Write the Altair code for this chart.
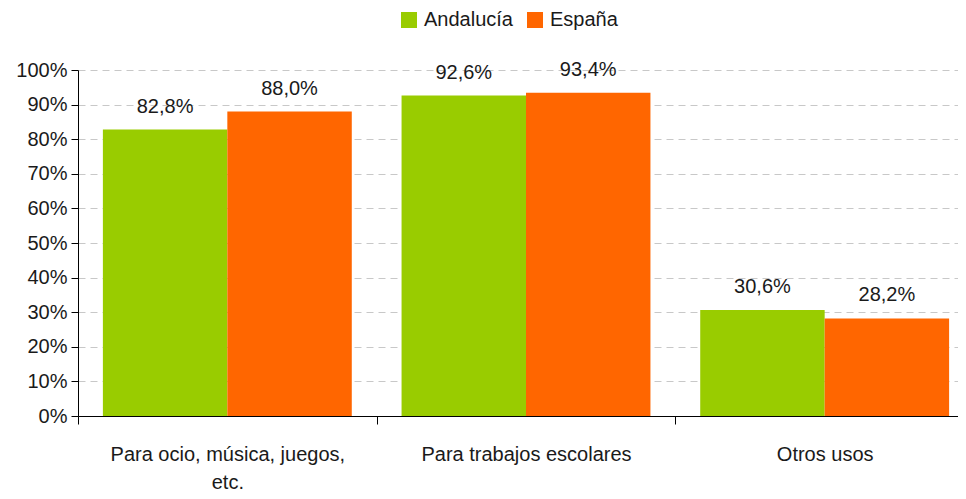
import altair as alt
import pandas as pd

categories = ["Para ocio, música, juegos, etc.", "Para trabajos escolares", "Otros usos"]
series = ["Andalucía", "España"]
andalucia = [82.8, 92.6, 30.6]
espana = [88.0, 93.4, 28.2]
y_ticks = [0, 10, 20, 30, 40, 50, 60, 70, 80, 90, 100]

rows = []
for c, a, e in zip(categories, andalucia, espana):
    rows.append({"cat": c, "serie": "Andalucía", "value": a})
    rows.append({"cat": c, "serie": "España", "value": e})
df = pd.DataFrame(rows)

FONT = "Liberation Sans Narrow, Arial Narrow, Liberation Sans, Arial"
FS = 20

x = alt.X("cat:N", sort=categories, title=None,
          scale=alt.Scale(paddingInner=0, paddingOuter=0),
          axis=alt.Axis(labelAngle=0, tickBand="extent", tickSize=8, tickColor="black",
                        domainColor="black", labelFont=FONT, labelFontSize=FS,
                        labelColor="#1a1a1a", labelPadding=20, labelLineHeight=28,
                        labelLimit=0,
                        labelExpr="datum.label == 'Para ocio, música, juegos, etc.' ? ['Para ocio, música, juegos,', 'etc.'] : datum.label",
                        labelBaseline="top"))
xo = alt.XOffset("serie:N", sort=series, scale=alt.Scale(paddingInner=0, paddingOuter=0.2))
y = alt.Y("value:Q", title=None,
          scale=alt.Scale(domain=[0, 100], nice=False),
          axis=alt.Axis(values=y_ticks, labelExpr="datum.value + '%'", tickSize=7,
                        tickColor="black", domainColor="black", labelFont=FONT,
                        labelFontSize=FS, labelColor="#1a1a1a", labelPadding=4,
                        grid=True, gridColor="#c8c8c8", gridDash=[7, 5]))
color = alt.Color("serie:N", sort=series,
                  scale=alt.Scale(domain=series, range=["#99CC00", "#FF6600"]),
                  legend=alt.Legend(title=None, orient="none", legendX=321, legendY=-60,
                                    direction="horizontal", symbolType="square",
                                    symbolSize=256, symbolStrokeWidth=0, labelFont=FONT,
                                    labelFontSize=FS, labelColor="#1a1a1a",
                                    labelOffset=5, columnPadding=12))

bars = alt.Chart(df).mark_bar().encode(x=x, xOffset=xo, y=y, color=color)
labels = alt.Chart(df).transform_calculate(
    lab="replace(format(datum.value, '.1f'), '.', ',') + '%'"
).mark_text(baseline="bottom", dy=-13, font=FONT, fontSize=FS, color="#1a1a1a").encode(
    x=x, xOffset=xo, y=y, text="lab:N")

chart = alt.layer(bars, labels).properties(
    width=896, height=346,
    autosize=alt.AutoSizeParams(type="none"),
    padding={"left": 70, "top": 62, "right": -16, "bottom": 75},
).configure_view(stroke=None).configure_axis(domainWidth=1, tickWidth=1)

chart.save("out.html", embed_options={"renderer": "svg", "actions": False})
